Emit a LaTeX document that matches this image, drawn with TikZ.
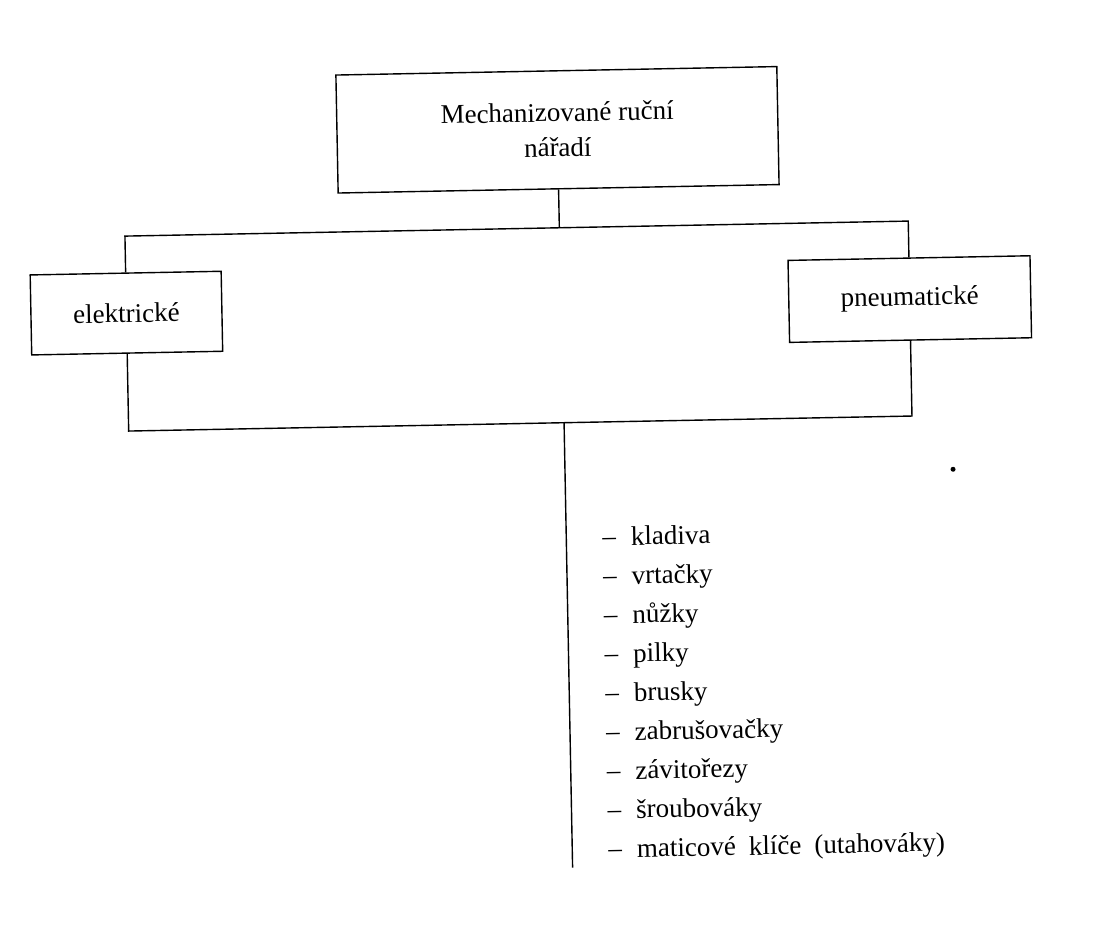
\documentclass[tikz,border=0pt]{standalone}
\usepackage{fontspec}
\setmainfont{Liberation Serif}
\begin{document}
\begin{tikzpicture}[x=1pt,y=-1pt,
  boxnode/.style={draw,line width=1.4pt,align=center,inner sep=0pt},
  itemnode/.style={anchor=west,inner sep=0pt,text height=0.72em,text depth=0.22em},
  link/.style={line width=1.4pt}]
\useasboundingbox (0,0) rectangle (1099,940);
\begin{scope}[rotate around={1.1:(550,470)},transform shape]
\fontsize{27}{35}\selectfont
\node[boxnode,minimum width=441pt,minimum height=118pt] (top) at (564,130)
  {Mechanizované ruční\\nářadí};
\node[boxnode,minimum width=191pt,minimum height=80pt] (el) at (129.5,305) {elektrické};
\node[boxnode,minimum width=242pt,minimum height=82pt] (pn) at (913,306) {pneumatické};
\coordinate (tj) at (564,228);
\coordinate (bj) at (565,423);
\coordinate (end) at (565,868);
\draw[link] (top.south) -- (tj);
\draw[link] (el.north) |- (tj) -| (pn.north);
\draw[link] (el.south) |- (bj) -| (pn.south);
\draw[link] (bj) -- (end);
\node[itemnode] (i1) at (601,540) {–\hspace{15pt}kladiva};
\node[itemnode] (i2) at (601,579) {–\hspace{15pt}vrtačky};
\node[itemnode] (i3) at (601,618) {–\hspace{15pt}nůžky};
\node[itemnode] (i4) at (601,657) {–\hspace{15pt}pilky};
\node[itemnode] (i5) at (601,696) {–\hspace{15pt}brusky};
\node[itemnode] (i6) at (601,735) {–\hspace{15pt}zabrušovačky};
\node[itemnode] (i7) at (601,774) {–\hspace{15pt}závitořezy};
\node[itemnode] (i8) at (601,813) {–\hspace{15pt}šroubováky};
\node[itemnode] (i9) at (601,852) {–\hspace{15pt}maticové\hspace{13pt}klíče\hspace{13pt}(utahováky)};
\fill (953,477) circle (2.5pt);
\end{scope}
\end{tikzpicture}
\end{document}
